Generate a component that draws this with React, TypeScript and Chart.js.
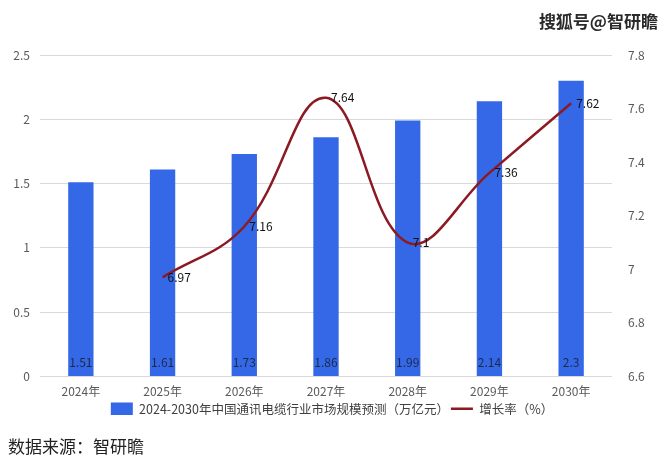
import React, { useEffect, useRef } from 'react';
import { Chart, registerables, Plugin } from 'chart.js';

Chart.register(...registerables);

const years = ['2024年', '2025年', '2026年', '2027年', '2028年', '2029年', '2030年'];
const marketSize = [1.51, 1.61, 1.73, 1.86, 1.99, 2.14, 2.3];
const growthRate = [null, 6.97, 7.16, 7.64, 7.1, 7.36, 7.62];

const barLabel = '2024-2030年中国通讯电缆行业市场规模预测（万亿元）';
const lineLabel = '增长率（%）';

const FONT = '"Noto Sans CJK SC", "Noto Sans", sans-serif';
const BAR_COLOR = '#3568e6';
const LINE_COLOR = '#8b1a22';

// small data label plugin: bar values sit at the base, line values to the right of the point
const valueLabels: Plugin = {
  id: 'valueLabels',
  afterDatasetsDraw(chart) {
    const ctx = chart.ctx;
    ctx.save();
    ctx.font = `12px ${FONT}`;
    ctx.textBaseline = 'middle';
    chart.data.datasets.forEach((ds, di) => {
      const meta = chart.getDatasetMeta(di);
      meta.data.forEach((el: any, i) => {
        const v = ds.data[i] as number | null;
        if (v == null) return;
        if (meta.type === 'bar') {
          ctx.fillStyle = '#1c2a4a';
          ctx.textAlign = 'center';
          ctx.fillText(String(v), el.x, el.base - 14);
        } else {
          ctx.fillStyle = '#111';
          ctx.textAlign = 'left';
          ctx.fillText(String(v), el.x + 5, el.y);
        }
      });
    });
    ctx.restore();
  },
};

const plainNum = (v: string | number) => String(Number(Number(v).toFixed(2)));

const ReportChart: React.FC = () => {
  const canvasRef = useRef<HTMLCanvasElement>(null);

  useEffect(() => {
    if (!canvasRef.current) return;
    const chart = new Chart(canvasRef.current, {
      type: 'bar',
      data: {
        labels: years,
        datasets: [
          {
            type: 'line',
            label: lineLabel,
            data: growthRate,
            yAxisID: 'y1',
            borderColor: LINE_COLOR,
            backgroundColor: LINE_COLOR,
            borderWidth: 2.5,
            tension: 0.4,
            pointRadius: 0,
            pointStyle: 'line',
            spanGaps: true,
          },
          {
            type: 'bar',
            label: barLabel,
            data: marketSize,
            yAxisID: 'y',
            backgroundColor: BAR_COLOR,
            categoryPercentage: 1,
            barPercentage: 0.31,
            pointStyle: 'rect',
          },
        ],
      },
      options: {
        responsive: false,
        animation: false,
        layout: { padding: { top: 55, bottom: 34, left: 0, right: 0 } },
        plugins: {
          tooltip: { enabled: false },
          legend: {
            position: 'bottom',
            reverse: true,
            labels: {
              usePointStyle: true,
              pointStyleWidth: 22,
              boxHeight: 14,
              padding: 2,
              color: '#404040',
              font: { size: 12.5, family: FONT },
            },
          },
        },
        scales: {
          x: {
            grid: { display: false },
            border: { display: false },
            ticks: { color: '#595959', font: { size: 12, family: FONT }, padding: 0 },
            afterFit: (s: any) => { s.height = 24; },
          },
          y: {
            position: 'left',
            min: 0,
            max: 2.5,
            ticks: { stepSize: 0.5, color: '#595959', font: { size: 12, family: FONT }, padding: 10, callback: plainNum },
            grid: { color: '#d9d9d9', drawTicks: false },
            border: { display: false },
            afterFit: (s: any) => { s.width = 40; },
          },
          y1: {
            position: 'right',
            min: 6.6,
            max: 7.8,
            ticks: { stepSize: 0.2, color: '#595959', font: { size: 12, family: FONT }, padding: 8, callback: plainNum },
            grid: { display: false },
            border: { display: false },
            afterFit: (s: any) => { s.width = 52; },
          },
        },
      },
      plugins: [valueLabels],
    });
    return () => chart.destroy();
  }, []);

  return (
    <div style={{ position: 'absolute', left: 0, top: 0, width: 664, height: 459, background: '#fff' }}>
      <canvas ref={canvasRef} width={664} height={459} style={{ position: 'absolute', left: 0, top: 0 }} />
      <div
        style={{
          position: 'absolute',
          right: 6,
          top: 8,
          fontFamily: FONT,
          fontSize: 17,
          fontWeight: 'bold',
          color: '#2a2a2a',
          textShadow: '0 0 2px #fff, 0 0 2px #fff',
        }}
      >
        搜狐号@智研瞻
      </div>
      <div
        style={{
          position: 'absolute',
          left: 8,
          top: 433,
          fontFamily: FONT,
          fontSize: 17,
          color: '#222',
        }}
      >
        数据来源：智研瞻
      </div>
    </div>
  );
};

export default function App() {
  return <ReportChart />;
}
